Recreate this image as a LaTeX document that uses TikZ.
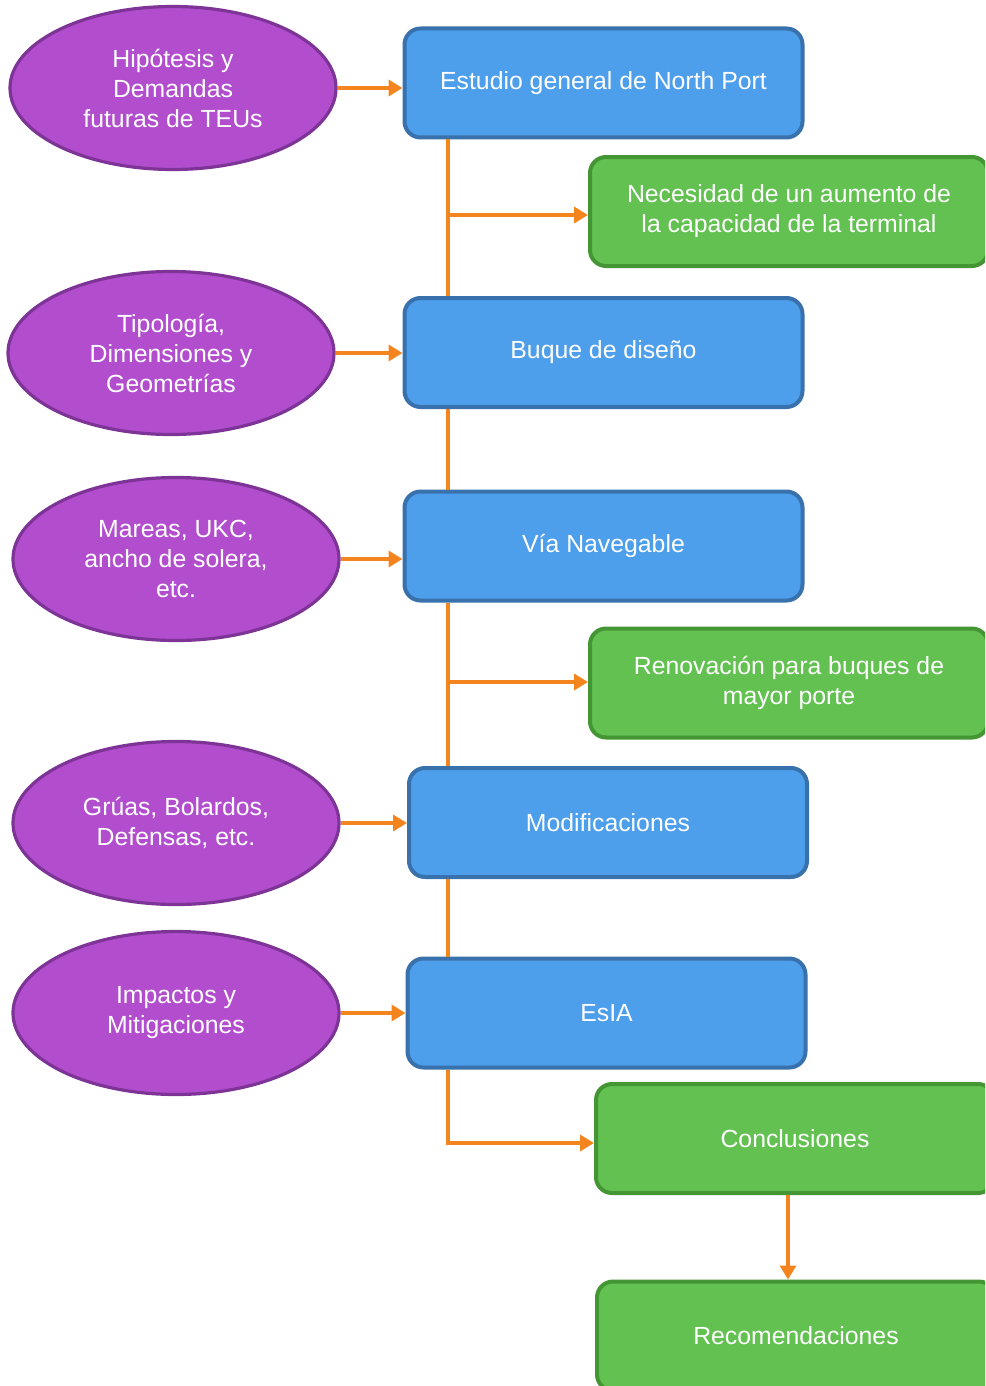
\documentclass[tikz,border=0pt]{standalone}
\usepackage{fontspec}
\setmainfont{Liberation Sans}
\usepackage{xcolor}
\usepackage{tikz}
\usetikzlibrary{shapes.geometric,arrows.meta,calc}

\definecolor{purplefill}{RGB}{178,78,206}
\definecolor{purpleline}{RGB}{125,52,150}
\definecolor{bluefill}{RGB}{77,158,235}
\definecolor{blueline}{RGB}{56,113,172}
\definecolor{greenfill}{RGB}{98,193,80}
\definecolor{greenline}{RGB}{68,150,52}
\definecolor{linkorange}{RGB}{244,132,30}

\begin{document}
\begin{tikzpicture}[x=0.5pt, y=-0.5pt,
    every node/.style={align=center, text=white, font=\fontsize{12.4}{15}\selectfont},
    ellip/.style={ellipse, draw=purpleline, fill=purplefill, line width=1.6pt, minimum width=163pt, minimum height=81.5pt, inner sep=0pt},
    bluebox/.style={rectangle, rounded corners=8pt, draw=blueline, fill=bluefill, line width=2pt, minimum width=199pt, minimum height=54.5pt},
    greenbox/.style={rectangle, rounded corners=8pt, draw=greenline, fill=greenfill, line width=2pt, minimum width=199pt, minimum height=54.5pt},
    link/.style={draw=linkorange, line width=1.8pt},
    arr/.style={link, -{Triangle[length=7pt,width=8pt]}}]
    \useasboundingbox (0,0) rectangle (985,1386);
    \clip (0,0) rectangle (985,1386);

    % left-hand inputs
    \node[ellip] (e1) at (173,88) {Hipótesis y\\Demandas\\futuras de TEUs};
    \node[ellip] (e2) at (171,353) {Tipología,\\Dimensiones y\\Geometrías};
    \node[ellip] (e3) at (176,559) {Mareas, UKC,\\ancho de solera,\\etc.};
    \node[ellip] (e4) at (176,823) {Grúas, Bolardos,\\Defensas, etc.};
    \node[ellip] (e5) at (176,1013) {Impactos y\\Mitigaciones};

    % main chain
    \node[bluebox] (b1) at (603.5,83) {Estudio general de North Port};
    \node[bluebox] (b2) at (603.5,352.5) {Buque de diseño};
    \node[bluebox] (b3) at (603.5,546) {Vía Navegable};
    \node[bluebox] (b4) at (608,822.5) {Modificaciones};
    \node[bluebox] (b5) at (606.5,1013) {EsIA};

    % results
    \node[greenbox] (g1) at (789,211.5) {Necesidad de un aumento de\\la capacidad de la terminal};
    \node[greenbox] (g2) at (789,683) {Renovación para buques de\\mayor porte};
    \node[greenbox] (g3) at (795,1138.5) {Conclusiones};
    \node[greenbox] (g4) at (796,1336) {Recomendaciones};

    \draw[arr] (e1.east) -- (e1.east -| b1.west);
    \draw[arr] (e2.east) -- (e2.east -| b2.west);
    \draw[arr] (e3.east) -- (e3.east -| b3.west);
    \draw[arr] (e4.east) -- (e4.east -| b4.west);
    \draw[arr] (e5.east) -- (e5.east -| b5.west);

    \coordinate (j1) at (448,215);
    \coordinate (j2) at (448,420);
    \coordinate (j3) at (448,682);
    \coordinate (j4) at (448,920);
    \coordinate (j5) at (448,1143);
    \coordinate (j6) at (788,1240);

    \draw[link] (j1 |- b1.south) -- (j1 |- b2.north);
    \draw[arr] (j1) -- (j1 -| g1.west);
    \draw[link] (j2 |- b2.south) -- (j2 |- b3.north);
    \draw[link] (j3 |- b3.south) -- (j3 |- b4.north);
    \draw[arr] (j3) -- (j3 -| g2.west);
    \draw[link] (j4 |- b4.south) -- (j4 |- b5.north);
    \draw[arr] (j5 |- b5.south) -- (j5) -- (j5 -| g3.west);
    \draw[arr] (j6 |- g3.south) -- (j6 |- g4.north);
\end{tikzpicture}
\end{document}
